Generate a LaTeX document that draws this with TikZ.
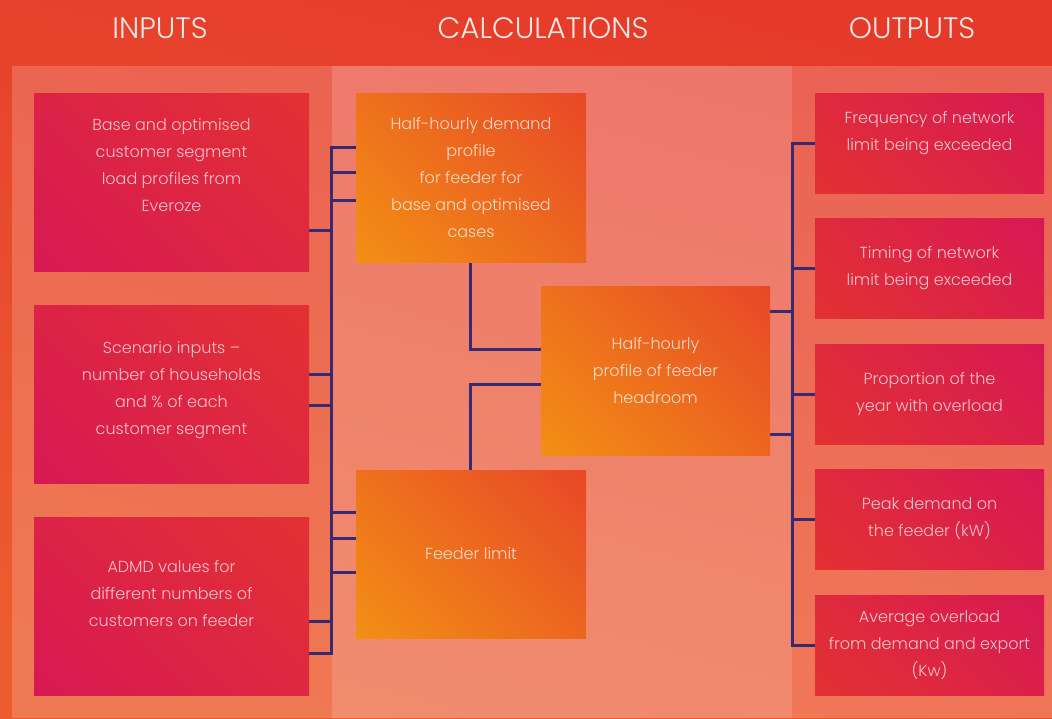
\documentclass[tikz,border=0pt]{standalone}
\usepackage{fontspec}
\IfFontExistsTF{Poppins Light}{\setmainfont{Poppins Light}}{%
  \IfFontExistsTF{Poppins-Light}{\setmainfont{Poppins-Light}}{\setmainfont{Poppins}}}
\pgfdeclarelayer{base}
\pgfdeclarelayer{links}
\pgfsetlayers{base,links,main}

\definecolor{bgred}{HTML}{E53A2A}
\definecolor{bgorange}{HTML}{EC5C2E}
\definecolor{boxmag}{HTML}{D4145A}
\definecolor{boxred}{HTML}{E6362C}
\definecolor{boxamber}{HTML}{F59E10}
\definecolor{boxflame}{HTML}{E5392C}
\definecolor{linknavy}{HTML}{372A72}

% corner-to-corner blends (bottom colour at 0bp, top colour at 100bp)
\pgfdeclareverticalshading{inshade}{100bp}{color(0bp)=(boxmag); color(100bp)=(boxred)}
\pgfdeclareverticalshading{outshade}{100bp}{color(0bp)=(boxred); color(100bp)=(boxmag)}
\pgfdeclareverticalshading{calcshade}{100bp}{color(0bp)=(boxamber); color(100bp)=(boxflame)}

\tikzset{
  panel/.style={inner sep=0pt, outer sep=0pt, shade, shading angle=-45},
  inbox/.style={panel, shading=inshade, minimum width=275pt, minimum height=178pt},
  calcbox/.style={panel, shading=calcshade, minimum width=230pt, minimum height=169pt,
    text=white, text opacity=0.75, align=center, font=\boxfont},
  outbox/.style={panel, shading=outshade, minimum width=229pt, minimum height=100pt,
    text=white, text opacity=0.72, align=center, font=\boxfont},
  boxtext/.style={inner sep=0pt, text=white, text opacity=0.72,
    align=center, font=\boxfont},
  heading/.style={inner sep=0pt, text=white, text opacity=0.88,
    font=\fontsize{29.5}{32}\selectfont},
  link/.style={draw=linknavy, line width=3pt, line cap=rect}
}
\newcommand{\boxfont}{\fontsize{16}{27}\selectfont}

\begin{document}
\begin{tikzpicture}[x=1pt, y=-1pt]
\useasboundingbox (0,0) rectangle (1052,718);

% backdrop and the three column panels
\begin{pgfonlayer}{base}
  \shade[top color=bgred, bottom color=bgorange, shading angle=-15]
    (0,0) rectangle (1052,718);
  \fill[white, opacity=0.18] (12,66) rectangle (332,718);
  \fill[white, opacity=0.30] (332,66) rectangle (792,718);
  \fill[white, opacity=0.20] (792,66) rectangle (1052,718);
\end{pgfonlayer}

% column headings
\node[heading] (hIn)   at (160,28) {INPUTS};
\node[heading] (hCalc) at (543,28) {CALCULATIONS};
\node[heading] (hOut)  at (912,28) {OUTPUTS};

% inputs
\node[inbox] (in1) at (171.5,182) {};
\node[inbox] (in2) at (171.5,394.5) {};
\node[inbox] (in3) at (171.5,606) {};
\node[boxtext] (in1t) at ([yshift=16.5pt]in1.center)
  {Base and optimised\\customer segment\\load profiles from\\Everoze};
\node[boxtext] (in2t) at ([yshift=4.5pt]in2.center)
  {Scenario inputs –\\number of households\\and \% of each\\customer segment};
\node[boxtext] (in3t) at ([yshift=12.5pt]in3.center)
  {ADMD values for\\different numbers of\\customers on feeder};

% calculations
\node[calcbox] (mA) at (471,177.5)
  {Half-hourly demand\\profile\\for feeder for\\base and optimised\\cases};
\node[calcbox, minimum height=168pt] (mB) at (471,554) {Feeder limit};
\node[calcbox, minimum width=229pt] (mC) at (655.5,370.5)
  {Half-hourly\\profile of feeder\\headroom};

% outputs
\node[outbox] (out1) at (929.5,143) {};
\node[boxtext] (out1t) at ([yshift=9.5pt]out1.center)
  {Frequency of network\\limit being exceeded};
\node[outbox] (out2) at (929.5,268) {Timing of network\\limit being exceeded};
\node[outbox] (out3) at (929.5,394) {Proportion of the\\year with overload};
\node[outbox] (out4) at (929.5,519) {Peak demand on\\the feeder (kW)};
\node[outbox] (out5) at (929.5,645)
  {Average overload\\from demand and export\\(Kw)};

% connectors
\begin{pgfonlayer}{links}
  % input bus
  \draw[link] ([xshift=-25pt,yshift=30.5pt]mA.west)
           -- ([xshift=22pt,yshift=-47pt]in3.east);
  \draw[link] ([yshift=-48pt]in1.east) -- ++(22,0);
  \draw[link] ([yshift=20.5pt]in2.east) -- ++(22,0);
  \draw[link] ([yshift=-10.5pt]in2.east) -- ++(22,0);
  \draw[link] ([yshift=-15pt]in3.east) -- ++(22,0);
  \draw[link] ([yshift=-47pt]in3.east) -- ++(22,0);
  \draw[link] ([yshift=30.5pt]mA.west) -- ++(-25,0);
  \draw[link] ([yshift=5.5pt]mA.west) -- ++(-25,0);
  \draw[link] ([yshift=-22.5pt]mA.west) -- ++(-25,0);
  \draw[link] ([yshift=42pt]mB.west) -- ++(-25,0);
  \draw[link] ([yshift=16pt]mB.west) -- ++(-25,0);
  \draw[link] ([yshift=-18pt]mB.west) -- ++(-25,0);
  % calculation links
  \draw[link] ([xshift=-1pt]mA.south) |- ([yshift=21.5pt]mC.west);
  \draw[link] ([xshift=-1pt]mB.north) |- ([yshift=-13.5pt]mC.west);
  % output bus
  \draw[link] ([xshift=-23pt]out1.west) -- ([xshift=-23pt]out5.west);
  \draw[link] ([yshift=59pt]mC.east) -- ++(22,0);
  \draw[link] ([yshift=-63.5pt]mC.east) -- ++(22,0);
  \foreach \o in {out1,out2,out3,out4,out5}
    \draw[link] (\o.west) -- ++(-23,0);
\end{pgfonlayer}
\end{tikzpicture}
\end{document}
